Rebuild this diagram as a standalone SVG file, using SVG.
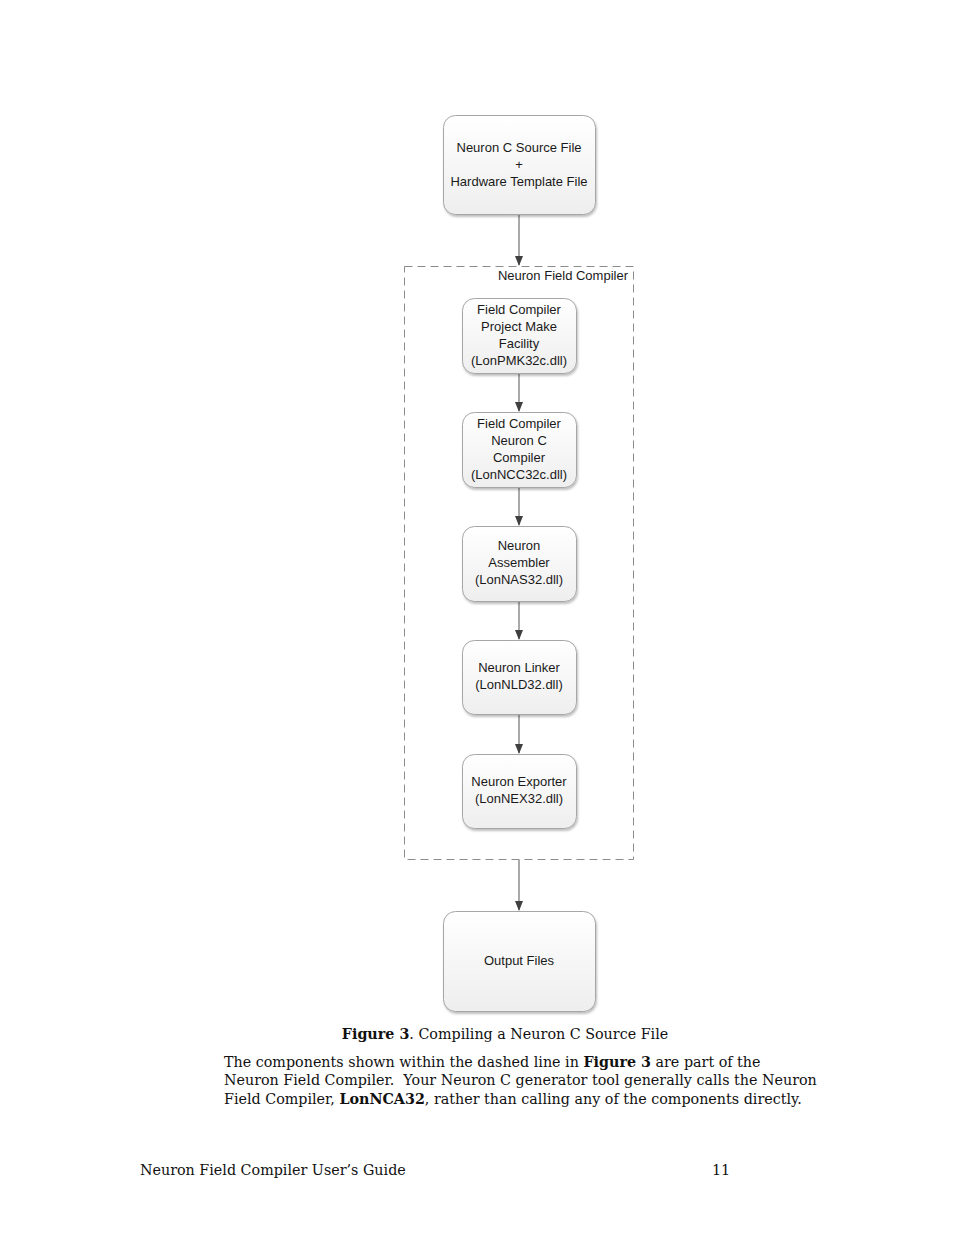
<svg xmlns="http://www.w3.org/2000/svg" width="954" height="1235" viewBox="0 0 954 1235">
<style>
.box{fill:url(#g);stroke:#a6a6a6;stroke-width:1;filter:url(#sh)}
.t{font-family:"Liberation Sans",Arial,sans-serif;font-size:13px;fill:#1a1a1a;text-anchor:middle}
.c{stroke:#555;stroke-width:1;fill:none;marker-end:url(#ah)}
.body{font-family:"DejaVu Serif","Liberation Serif",serif;font-size:14.3px;fill:#111;white-space:pre}
</style>
<defs>
<linearGradient id="g" x1="0" y1="0" x2="0" y2="1"><stop offset="0" stop-color="#ffffff"/><stop offset="1" stop-color="#eeeeee"/></linearGradient>
<filter id="sh" x="-10%" y="-10%" width="130%" height="130%"><feDropShadow dx="1" dy="2" stdDeviation="1.2" flood-color="#000" flood-opacity="0.25"/></filter>
<marker id="ah" markerWidth="10" markerHeight="12" refX="9" refY="5" orient="auto" markerUnits="userSpaceOnUse" viewBox="0 0 10 10"><path d="M0,1 L10,5 L0,9 z" fill="#404040"/></marker>
</defs>
<rect width="954" height="1235" fill="#fff"/>
<g id="connectors">
<line class="c" x1="519" y1="215" x2="519" y2="265"/>
<line class="c" x1="519" y1="374" x2="519" y2="411"/>
<line class="c" x1="519" y1="488" x2="519" y2="525"/>
<line class="c" x1="519" y1="602" x2="519" y2="639"/>
<line class="c" x1="519" y1="715" x2="519" y2="753"/>
<line class="c" x1="519" y1="860" x2="519" y2="910"/>
</g>
<g id="compiler-group">
<rect x="404.5" y="266.5" width="229" height="593" fill="none" stroke="#8c8c8c" stroke-width="1" stroke-dasharray="8,5"/>
<text class="t" x="628" y="280" style="text-anchor:end">Neuron Field Compiler</text>
</g>
<g id="source">
<rect class="box" x="443.5" y="115.5" width="152" height="99" rx="12"/>
<text class="t" x="519" y="152">Neuron C Source File</text>
<text class="t" x="519" y="169">+</text>
<text class="t" x="519" y="186">Hardware Template File</text>
</g>
<g id="pmk">
<rect class="box" x="462.5" y="298.5" width="114" height="75" rx="12"/>
<text class="t" x="519" y="314">Field Compiler</text>
<text class="t" x="519" y="331">Project Make</text>
<text class="t" x="519" y="348">Facility</text>
<text class="t" x="519" y="365">(LonPMK32c.dll)</text>
</g>
<g id="ncc">
<rect class="box" x="462.5" y="412.5" width="114" height="75" rx="12"/>
<text class="t" x="519" y="428">Field Compiler</text>
<text class="t" x="519" y="445">Neuron C</text>
<text class="t" x="519" y="462">Compiler</text>
<text class="t" x="519" y="479">(LonNCC32c.dll)</text>
</g>
<g id="nas">
<rect class="box" x="462.5" y="526.5" width="114" height="75" rx="12"/>
<text class="t" x="519" y="550">Neuron</text>
<text class="t" x="519" y="567">Assembler</text>
<text class="t" x="519" y="584">(LonNAS32.dll)</text>
</g>
<g id="nld">
<rect class="box" x="462.5" y="640.5" width="114" height="74" rx="12"/>
<text class="t" x="519" y="672">Neuron Linker</text>
<text class="t" x="519" y="689">(LonNLD32.dll)</text>
</g>
<g id="nex">
<rect class="box" x="462.5" y="754.5" width="114" height="74" rx="12"/>
<text class="t" x="519" y="786">Neuron Exporter</text>
<text class="t" x="519" y="803">(LonNEX32.dll)</text>
</g>
<g id="output">
<rect class="box" x="443.5" y="911.5" width="152" height="100" rx="12"/>
<text class="t" x="519" y="965">Output Files</text>
</g>
<g id="text">
<text class="body" x="505" y="1039" text-anchor="middle"><tspan font-weight="bold">Figure 3</tspan>. Compiling a Neuron C Source File</text>
<text class="body" x="224" y="1067"><tspan>The components shown within the dashed line in </tspan><tspan font-weight="bold">Figure 3</tspan><tspan> are part of the</tspan></text>
<text class="body" x="224" y="1085">Neuron Field Compiler.  Your Neuron C generator tool generally calls the Neuron</text>
<text class="body" x="224" y="1104"><tspan>Field Compiler, </tspan><tspan font-weight="bold">LonNCA32</tspan><tspan>, rather than calling any of the components directly.</tspan></text>
<text class="body" x="140" y="1175">Neuron Field Compiler User’s Guide</text>
<text class="body" x="712" y="1175">11</text>
</g>
</svg>
